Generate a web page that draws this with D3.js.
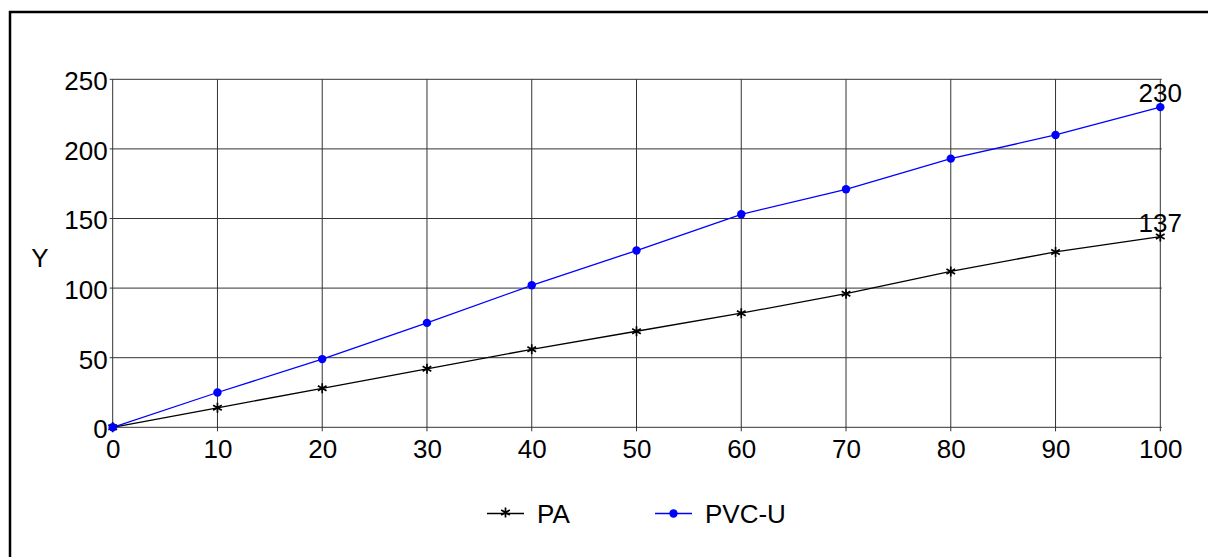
<!DOCTYPE html>
<html>
  <head>
    <meta charset="utf-8" />
    <script src="https://cdn.jsdelivr.net/npm/d3@7"></script>
    <style>
      body { margin: 0; background: #fff; }
      text { font-family: "Liberation Sans", Arial, sans-serif; fill: #000; }
      .grid line { stroke: #333; stroke-width: 1; }
    </style>
  </head>
  <body>
    <div id="chart"></div>
    <script type="text/javascript">
var width = 1208, height = 557;

// data
var xValues = [0, 10, 20, 30, 40, 50, 60, 70, 80, 90, 100];
var paValues = [0, 14, 28, 42, 56, 69, 82, 96, 112, 126, 137];
var pvcValues = [0, 25, 49, 75, 102, 127, 153, 171, 193, 210, 230];
var xTicks = [0, 10, 20, 30, 40, 50, 60, 70, 80, 90, 100];
var yTicks = [0, 50, 100, 150, 200, 250];
var seriesNames = ["PA", "PVC-U"];

var svg = d3.select("#chart").append("svg")
  .attr("width", width)
  .attr("height", height);

// outer frame (right and bottom edges fall outside the picture)
svg.append("rect")
  .attr("x", 10).attr("y", 12)
  .attr("width", 1400).attr("height", 700)
  .attr("fill", "none")
  .attr("stroke", "#000")
  .attr("stroke-width", 2.5);

var x = d3.scaleLinear().domain([0, 100]).range([112.7, 1160.3]);
var y = d3.scaleLinear().domain([0, 250]).range([427.3, 79.3]);

var grid = svg.append("g").attr("class", "grid");

// vertical grid lines, with small tick below the axis
grid.selectAll(".vl")
  .data(xTicks)
  .enter()
  .append("line")
    .attr("x1", function(d) { return x(d); })
    .attr("x2", function(d) { return x(d); })
    .attr("y1", y(250))
    .attr("y2", y(0) + 4);

// horizontal grid lines, small tick to the left
grid.selectAll(".hl")
  .data(yTicks)
  .enter()
  .append("line")
    .attr("x1", x(0) - 3)
    .attr("x2", x(100) + 1.5)
    .attr("y1", function(d) { return y(d); })
    .attr("y2", function(d) { return y(d); });

// axis labels through d3 axes, tick lines hidden
var xAxis = svg.append("g")
  .attr("transform", "translate(0," + y(0) + ")")
  .call(d3.axisBottom(x).tickValues(xTicks).tickSize(0).tickPadding(12));
var yAxis = svg.append("g")
  .attr("transform", "translate(" + x(0) + ",0)")
  .call(d3.axisLeft(y).tickValues(yTicks).tickSize(0).tickPadding(5));

[xAxis, yAxis].forEach(function(a) {
  a.select(".domain").remove();
  a.selectAll("text")
    .attr("font-family", "Liberation Sans, Arial, sans-serif")
    .attr("font-size", 26)
    .attr("fill", "#000");
});
xAxis.selectAll("text").attr("dy", "0.72em");
yAxis.selectAll("text").attr("dy", "0.4em");

svg.append("text")
  .attr("x", 40)
  .attr("y", 258)
  .attr("dy", "0.36em")
  .attr("text-anchor", "middle")
  .attr("font-size", 26)
  .text("Y");

// asterisk marker: vertical stroke plus two slanted ones
function starPath(cx, cy, r) {
  var p = "";
  [90, 30, 150].forEach(function(a) {
    var rad = a * Math.PI / 180;
    var dx = r * Math.cos(rad), dy = r * Math.sin(rad);
    p += "M" + (cx - dx) + "," + (cy - dy) + "L" + (cx + dx) + "," + (cy + dy);
  });
  return p;
}

var line = d3.line()
  .x(function(d, i) { return x(xValues[i]); })
  .y(function(d) { return y(d); });

// PA series
svg.append("path")
  .datum(paValues)
  .attr("d", line)
  .attr("fill", "none")
  .attr("stroke", "#000")
  .attr("stroke-width", 1.3);

svg.selectAll(".pa")
  .data(paValues)
  .enter()
  .append("path")
    .attr("class", "pa")
    .attr("d", function(d, i) { return starPath(x(xValues[i]), y(d), 5); })
    .attr("stroke", "#000")
    .attr("stroke-width", 1.7);

// PVC-U series
svg.append("path")
  .datum(pvcValues)
  .attr("d", line)
  .attr("fill", "none")
  .attr("stroke", "#0000ff")
  .attr("stroke-width", 1.3);

svg.selectAll(".pvc")
  .data(pvcValues)
  .enter()
  .append("circle")
    .attr("class", "pvc")
    .attr("cx", function(d, i) { return x(xValues[i]); })
    .attr("cy", function(d) { return y(d); })
    .attr("r", 4.2)
    .attr("fill", "#0000ff");

// end labels
var last = xValues.length - 1;
[paValues, pvcValues].forEach(function(vals) {
  svg.append("text")
    .attr("x", x(xValues[last]))
    .attr("y", y(vals[last]) - 5)
    .attr("text-anchor", "middle")
    .attr("font-size", 26)
    .text(vals[last]);
});

// legend
var legendX = [487, 655];
var legendY = 513.5;
var legend = svg.selectAll(".legend")
  .data(seriesNames)
  .enter()
  .append("g")
    .attr("class", "legend")
    .attr("transform", function(d, i) { return "translate(" + legendX[i] + "," + legendY + ")"; });

legend.append("line")
  .attr("x1", 0).attr("x2", 37)
  .attr("y1", 0).attr("y2", 0)
  .attr("stroke", function(d, i) { return i === 0 ? "#000" : "#0000ff"; })
  .attr("stroke-width", 1.3);

legend.filter(function(d, i) { return i === 0; })
  .append("path")
    .attr("d", starPath(18.5, -1, 5))
    .attr("stroke", "#000")
    .attr("stroke-width", 1.7);

legend.filter(function(d, i) { return i === 1; })
  .append("circle")
    .attr("cx", 18.5).attr("cy", 0).attr("r", 4.2)
    .attr("fill", "#0000ff");

legend.append("text")
  .attr("x", 50)
  .attr("y", 0)
  .attr("dy", "0.36em")
  .attr("font-size", 26)
  .text(function(d) { return d; });
    </script>
  </body>
</html>
